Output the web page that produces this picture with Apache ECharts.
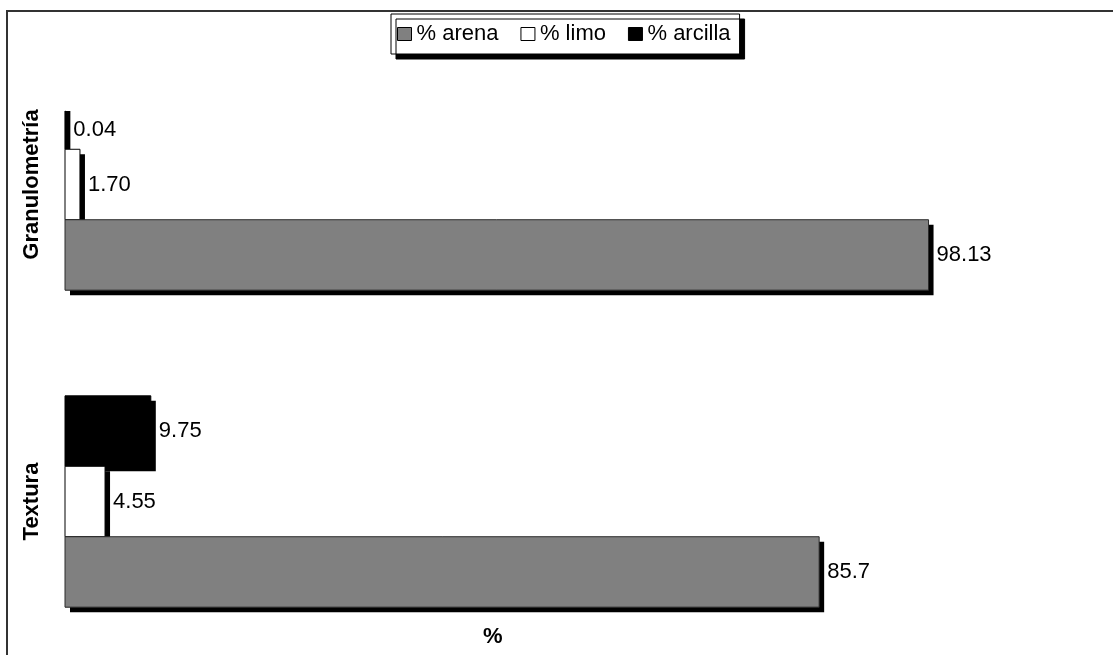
<!DOCTYPE html>
<html>
<head>
<meta charset="utf-8">
<script src="https://cdn.jsdelivr.net/npm/echarts@6/dist/echarts.min.js"></script>
<style>
  html, body { margin: 0; padding: 0; background: #fff; overflow: hidden; }
  #chart { width: 1113px; height: 668px; }
</style>
</head>
<body>
<div id="chart"></div>
<script>
// Categories (top to bottom) and the percentage of each fraction.
const categories = ['Granulometría', 'Textura'];
const seriesNames = ['% arena', '% limo', '% arcilla'];
const arena = ['98.13', '85.7'];
const limo = ['1.70', '4.55'];
const arcilla = ['0.04', '9.75'];
const axisTitle = '%';

const FONT = '"Liberation Sans", Arial, sans-serif';
const SHADOW = 5;          // drop-shadow offset of bars and legend
const PLOT_TOP = 111;      // upper edge of the visible plot area
const GAP_WIDTH = 1.5;     // space between groups, as a fraction of one bar

const barStyles = [
  { color: '#808080', borderColor: '#2b2b2b' },
  { color: '#ffffff', borderColor: '#000000' },
  { color: '#000000', borderColor: '#000000' }
];
const seriesValues = [arena, limo, arcilla];

// Draws one horizontal bar (with its drop shadow and value label) per category.
// slot 0 is the lowest bar of a group, slot 2 the highest.
function makeRenderer(slot, labels) {
  return function (params, api) {
    const cat = api.value(1);
    const end = api.coord([api.value(0), cat]);
    const start = api.coord([0, cat]);
    const band = api.size([0, 1])[1];
    const barH = band / (3 + GAP_WIDTH);
    const groupTop = end[1] - 1.5 * barH;
    const y = groupTop + (2 - slot) * barH;
    const x0 = start[0], x1 = end[0], y1 = y + barH;
    const cs = params.coordSys;
    const clip = { x: cs.x - 20, y: PLOT_TOP, width: cs.width + 300, height: cs.y + cs.height - PLOT_TOP };
    const bar = echarts.graphic.clipRectByRect({ x: x0, y: y, width: x1 - x0, height: barH }, clip);
    if (!bar) return;
    const d = SHADOW;
    // shadow: bar shifted by d, filled back to the bar's left edge
    const shadowPts = [
      [x0, y + d], [x1 + d, y + d], [x1 + d, y1 + d], [x0 + d, y1 + d], [x0 + d, y1], [x0, y1]
    ].map(p => [p[0], Math.max(p[1], PLOT_TOP)]);
    const st = barStyles[slot];
    return {
      type: 'group',
      children: [
        { type: 'polygon', shape: { points: shadowPts }, style: { fill: '#000' } },
        { type: 'rect', shape: bar, style: { fill: st.color, stroke: st.borderColor, lineWidth: 1 } },
        {
          type: 'text',
          x: x1 + 8,
          y: bar.y + bar.height / 2,
          style: { text: labels[params.dataIndex], font: '22px ' + FONT, fill: '#000', align: 'left', verticalAlign: 'middle' }
        }
      ]
    };
  };
}

const chart = echarts.init(document.getElementById('chart'), null, { renderer: 'canvas' });

const series = seriesNames.map((name, s) => ({
  type: 'custom',
  name: name,
  z: 4 - s,
  encode: { x: 0, y: 1 },
  itemStyle: { color: barStyles[s].color, borderColor: barStyles[s].borderColor, borderWidth: 1 },
  renderItem: makeRenderer(s, seriesValues[s]),
  data: categories.map((c, i) => [Number(seriesValues[s][i]), i])
}));

chart.setOption({
  animation: false,
  backgroundColor: '#ffffff',
  textStyle: { fontFamily: FONT },
  title: {
    text: axisTitle,
    left: 483,
    top: 626,
    padding: 0,
    textStyle: { fontSize: 22, fontWeight: 'bold', color: '#000', fontFamily: FONT }
  },
  legend: {
    left: 391,
    top: 14,
    padding: [9, 9, 9, 6],
    itemGap: 22,
    itemWidth: 14,
    itemHeight: 13,
    icon: 'rect',
    backgroundColor: '#ffffff',
    borderColor: '#000000',
    borderWidth: 1,
    shadowColor: '#000000',
    shadowBlur: 0,
    shadowOffsetX: SHADOW,
    shadowOffsetY: SHADOW,
    textStyle: { fontSize: 22, color: '#000', fontFamily: FONT },
    data: seriesNames.map((n, s) => ({
      name: n,
      itemStyle: { color: barStyles[s].color, borderColor: '#000', borderWidth: 1 }
    }))
  },
  grid: { left: 65, top: 26, width: 880, height: 634, containLabel: false },
  xAxis: {
    type: 'value',
    min: 0,
    max: 100,
    show: false
  },
  yAxis: {
    type: 'category',
    data: categories,
    inverse: true,
    axisLine: { show: false },
    axisTick: { show: false },
    splitLine: { show: false },
    axisLabel: {
      rotate: 90,
      margin: 22,
      fontSize: 22,
      fontWeight: 'bold',
      color: '#000',
      fontFamily: FONT
    }
  },
  graphic: [{
    type: 'rect',
    silent: true,
    z: -10,
    shape: { x: 7, y: 11, width: 1120, height: 680 },
    style: { fill: 'none', stroke: '#333333', lineWidth: 2 }
  }],
  series: series
});
</script>
</body>
</html>
